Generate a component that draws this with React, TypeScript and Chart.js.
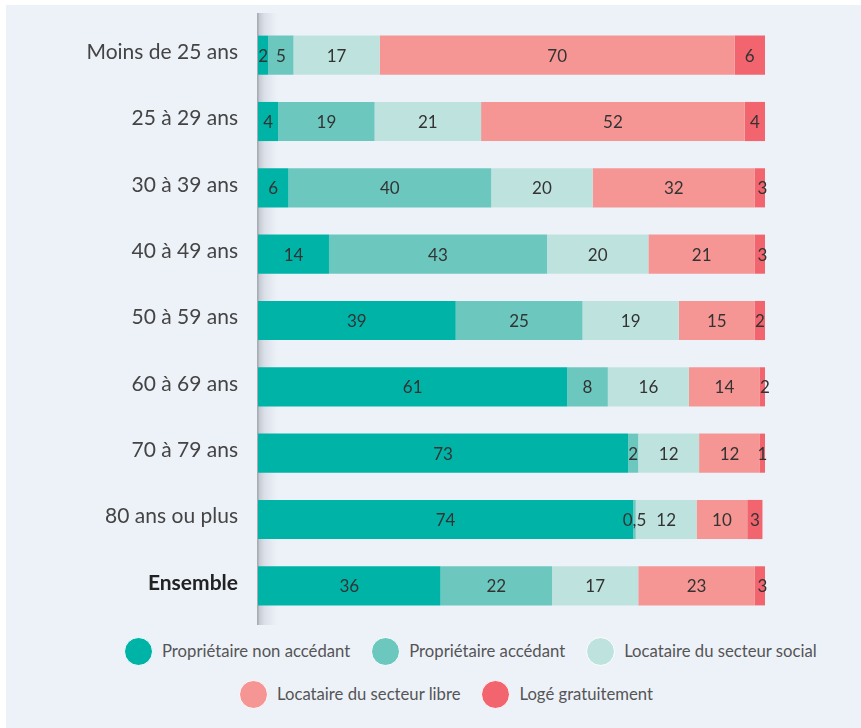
import React, { useEffect, useRef } from "react";
import { Chart, registerables } from "chart.js";

Chart.register(...registerables);

const categories = [
  "Moins de 25 ans",
  "25 à 29 ans",
  "30 à 39 ans",
  "40 à 49 ans",
  "50 à 59 ans",
  "60 à 69 ans",
  "70 à 79 ans",
  "80 ans ou plus",
  "Ensemble",
];

const seriesNames = [
  "Propriétaire non accédant",
  "Propriétaire accédant",
  "Locataire du secteur social",
  "Locataire du secteur libre",
  "Logé gratuitement",
];

const proprietaireNonAccedant = [2, 4, 6, 14, 39, 61, 73, 74, 36];
const proprietaireAccedant = [5, 19, 40, 43, 25, 8, 2, 0.5, 22];
const locataireSocial = [17, 21, 20, 20, 19, 16, 12, 12, 17];
const locataireLibre = [70, 52, 32, 21, 15, 14, 12, 10, 23];
const logeGratuitement = [6, 4, 3, 3, 2, 2, 1, 3, 3];

const colors = ["#00b3a7", "#6cc8bf", "#bee3df", "#f59694", "#f2656f"];

const FONT = "Lato, 'Open Sans', sans-serif";

const shadowPlugin = {
  id: "axisShadow",
  beforeDatasetsDraw(chart: any) {
    const { ctx, chartArea } = chart;
    const x = chartArea.left;
    const top = chartArea.top - 9;
    const bottom = chartArea.bottom + 10;
    ctx.save();
    const g = ctx.createLinearGradient(x, 0, x + 20, 0);
    g.addColorStop(0, "rgba(150,156,166,0.55)");
    g.addColorStop(0.3, "rgba(170,176,186,0.3)");
    g.addColorStop(1, "rgba(200,205,215,0)");
    ctx.fillStyle = g;
    ctx.fillRect(x, top, 20, bottom - top);
    ctx.fillStyle = "rgba(160,165,172,0.9)";
    ctx.fillRect(x - 1, top, 1.5, bottom - top);
    ctx.restore();
  },
};

const labelPlugin = {
  id: "segLabels",
  afterDatasetsDraw(chart: any) {
    const { ctx } = chart;
    ctx.save();
    ctx.font = `17px ${FONT}`;
    ctx.fillStyle = "#333";
    ctx.textAlign = "center";
    ctx.textBaseline = "middle";
    chart.data.datasets.forEach((ds: any, di: number) => {
      const meta = chart.getDatasetMeta(di);
      meta.data.forEach((bar: any, i: number) => {
        const v = ds.data[i];
        const txt = String(v).replace(".", ",");
        const cx = (bar.x + bar.base) / 2;
        ctx.fillText(txt, cx, bar.y + 1);
      });
    });
    ctx.restore();
  },
};

function LegendItem({ color, label }: { color: string; label: string }) {
  return (
    <div style={{ display: "flex", alignItems: "center", marginRight: 21 }}>
      <div
        style={{
          width: 29,
          height: 29,
          borderRadius: "50%",
          background: color,
          border: "1.5px solid #ffffff",
          boxSizing: "border-box",
          marginRight: 9,
        }}
      />
      <span style={{ fontFamily: FONT, fontSize: 16.7, color: "#555", whiteSpace: "nowrap" }}>{label}</span>
    </div>
  );
}

export default function App() {
  const ref = useRef<HTMLCanvasElement>(null);

  useEffect(() => {
    document.body.style.margin = "0";
    const dataArrays = [
      proprietaireNonAccedant,
      proprietaireAccedant,
      locataireSocial,
      locataireLibre,
      logeGratuitement,
    ];
    const chart = new Chart(ref.current as HTMLCanvasElement, {
      type: "bar",
      data: {
        labels: categories,
        datasets: dataArrays.map((d, i) => ({
          label: seriesNames[i],
          data: d,
          backgroundColor: colors[i],
          borderWidth: 0,
          barPercentage: 0.59,
          categoryPercentage: 1,
        })),
      },
      options: {
        indexAxis: "y",
        animation: false,
        responsive: false,
        maintainAspectRatio: false,
        layout: { padding: { top: 17, right: 96, bottom: 6, left: 0 } },
        plugins: {
          legend: { display: false },
          tooltip: { enabled: false },
        },
        scales: {
          x: { stacked: true, display: false, min: 0, max: 100 },
          y: {
            stacked: true,
            grid: { display: false, drawTicks: false },
            border: { display: false },
            afterFit(scale: any) {
              scale.width = 252;
              scale.paddingTop = 0;
              scale.paddingBottom = 0;
            },
            ticks: {
              padding: 20,
              labelOffset: -3,
              color: (c: any) => (c.index === 8 ? "#222" : "#444"),
              font: (c: any) => ({
                family: FONT,
                size: 21,
                weight: c.index === 8 ? "bold" : "normal",
              }),
            },
          },
        },
      },
      plugins: [shadowPlugin, labelPlugin],
    });
    return () => chart.destroy();
  }, []);

  return (
    <div
      style={{
        position: "relative",
        marginLeft: 6,
        marginTop: 5,
        width: 855,
        height: 723,
        background: "#edf2f9",
      }}
    >
      <canvas ref={ref} width={855} height={620} style={{ display: "block" }} />
      <div style={{ position: "absolute", left: 118, top: 631.5, display: "flex" }}>
        {[0, 1, 2].map((i) => (
          <LegendItem key={i} color={colors[i]} label={seriesNames[i]} />
        ))}
      </div>
      <div style={{ position: "absolute", left: 233, top: 674.5, display: "flex" }}>
        {[3, 4].map((i) => (
          <LegendItem key={i} color={colors[i]} label={seriesNames[i]} />
        ))}
      </div>
    </div>
  );
}
